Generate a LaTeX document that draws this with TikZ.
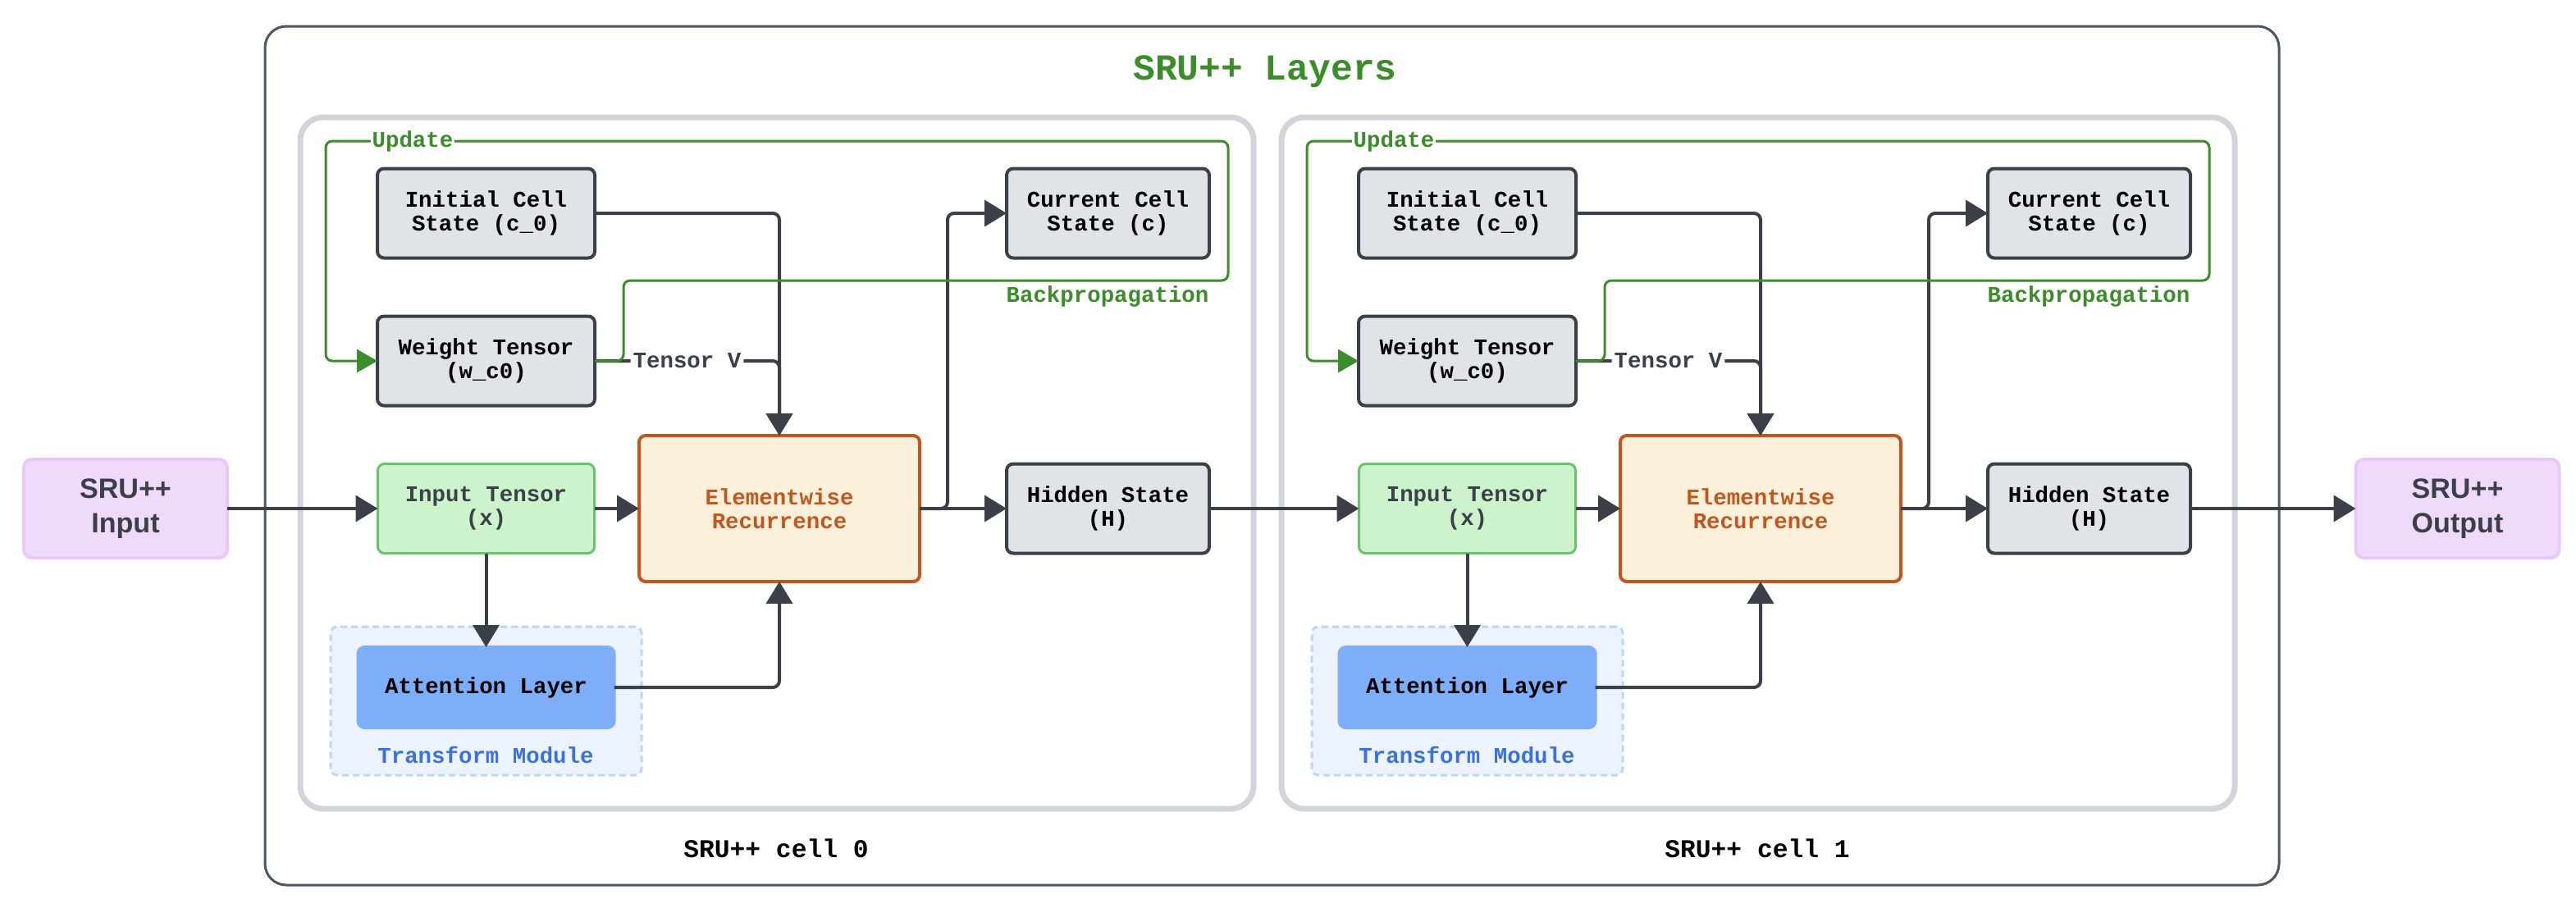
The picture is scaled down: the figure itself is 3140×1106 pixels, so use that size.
\documentclass[tikz,border=0pt]{standalone}
\usepackage{fontspec}
\setmainfont{Liberation Sans}
\setsansfont{Liberation Sans}
\setmonofont{Liberation Mono}
\usetikzlibrary{arrows.meta,positioning}
\definecolor{lineDark}{HTML}{3B4048}
\definecolor{outerGray}{HTML}{4B5563}
\definecolor{cellGray}{HTML}{D1D5DB}
\definecolor{stateGray}{HTML}{E0E3E8}
\definecolor{sruGreen}{HTML}{3C8C2C}
\definecolor{inputFill}{HTML}{CCF3CC}
\definecolor{inputLine}{HTML}{6CC16C}
\definecolor{recFill}{HTML}{FDF0DA}
\definecolor{recLine}{HTML}{C0571F}
\definecolor{attFill}{HTML}{7EAEF7}
\definecolor{modFill}{HTML}{EDF3FE}
\definecolor{modLine}{HTML}{BCD4F7}
\definecolor{modText}{HTML}{3B72DA}
\definecolor{ioFill}{HTML}{F0DAFB}
\definecolor{ioLine}{HTML}{E8C8F8}
\newcommand{\boxfont}{\ttfamily\bfseries\fontsize{7.8}{8.3}\selectfont}

\begin{document}
\begin{tikzpicture}[x=0.1mm,y=-0.1mm,>={Triangle[length=2.7mm,width=3.2mm]},
    gbox/.style={draw=lineDark,line width=0.4mm,fill=stateGray,rounded corners=0.8mm,
      align=center,minimum width=26.5mm,minimum height=10.9mm,inner sep=0pt,outer sep=0pt,font=\boxfont},
    inbox/.style={gbox,draw=inputLine,line width=0.3mm,fill=inputFill,text=lineDark,minimum width=26.4mm},
    recbox/.style={gbox,draw=recLine,fill=recFill,text=recLine,minimum width=34.2mm,minimum height=17.8mm},
    attbox/.style={gbox,draw=attFill,fill=attFill,minimum width=31.2mm,minimum height=9.8mm},
    modbox/.style={draw=modLine,line width=0.3mm,fill=modFill,dash pattern=on 0.8mm off 0.5mm,
      rounded corners=0.8mm,minimum width=37.9mm,minimum height=18.1mm,outer sep=0pt},
    iobox/.style={draw=ioLine,line width=0.4mm,fill=ioFill,rounded corners=1mm,align=center,
      minimum width=24.8mm,minimum height=12mm,inner sep=0pt,outer sep=0pt,text=lineDark,
      font=\sffamily\bfseries\fontsize{9.7}{11.9}\selectfont},
    flow/.style={draw=lineDark,line width=0.4mm,rounded corners=0.8mm},
    upd/.style={draw=sruGreen,line width=0.3mm,rounded corners=0.8mm,-{Triangle[length=2.5mm,width=2.8mm]}},
    glbl/.style={text=sruGreen,font=\boxfont,inner sep=0.2mm},
    tv/.style={fill=white,text=lineDark,font=\boxfont,inner sep=0.3mm},
    cellbox/.style={draw=cellGray,line width=0.7mm,rounded corners=2.8mm}]
    \useasboundingbox (0,0) rectangle (3140,1106);
    \draw[outerGray,line width=0.3mm,rounded corners=2.6mm] (323,32) rectangle (2778,1079);
    \node[text=sruGreen,font=\ttfamily\bfseries\fontsize{12.7}{15}\selectfont] (title) at (1542,87) {SRU++ Layers};
    \draw[cellbox] (366,143) rectangle (1528,986);
    \draw[cellbox] (1562,143) rectangle (2724,986);
    \node[font=\ttfamily\bfseries\fontsize{8.9}{10}\selectfont] (cell0) at (946,1034) {SRU++ cell 0};
    \node[font=\ttfamily\bfseries\fontsize{8.9}{10}\selectfont] (cell1) at (2142,1034) {SRU++ cell 1};

    \node[iobox] (in) at (153,620) {SRU++\\Input};
    \node[iobox] (out) at (2995.5,620) {SRU++\\Output};

    \node[modbox] (mod0) at (592.5,854.5) {};
    \node[inbox] (inp0) at (592.5,620) {Input Tensor\\(x)};
    \node[gbox,above=7.1mm of inp0] (wt0) {Weight Tensor\\(w\_c0)};
    \node[gbox,above=7.1mm of wt0] (init0) {Initial Cell\\State (c\_0)};
    \node[recbox,right=5.45mm of inp0] (rec0) {Elementwise\\Recurrence};
    \node[gbox,minimum width=24.7mm,right=10.6mm of rec0] (hid0) {Hidden State\\(H)};
    \node[gbox,minimum width=24.7mm] (cur0) at (hid0 |- init0) {Current Cell\\State (c)};
    \node[attbox,below=11.45mm of inp0] (att0) {Attention Layer};
    \node[text=modText,font=\boxfont] (modl0) at (592,920) {Transform Module};

    \node[modbox] (mod1) at (1788.5,854.5) {};
    \node[inbox] (inp1) at (1788.5,620) {Input Tensor\\(x)};
    \node[gbox,above=7.1mm of inp1] (wt1) {Weight Tensor\\(w\_c0)};
    \node[gbox,above=7.1mm of wt1] (init1) {Initial Cell\\State (c\_0)};
    \node[recbox,right=5.45mm of inp1] (rec1) {Elementwise\\Recurrence};
    \node[gbox,minimum width=24.7mm,right=10.6mm of rec1] (hid1) {Hidden State\\(H)};
    \node[gbox,minimum width=24.7mm] (cur1) at (hid1 |- init1) {Current Cell\\State (c)};
    \node[attbox,below=11.45mm of inp1] (att1) {Attention Layer};
    \node[text=modText,font=\boxfont] (modl1) at (1788,920) {Transform Module};

    \draw[flow,->] (in) -- (inp0);
    \draw[flow,->] (inp0) -- (rec0);
    \draw[flow,->] (init0.east) -| (rec0.north);
    \draw[flow,->] (wt0.east) -| node[tv,pos=0.25] {Tensor V} (rec0.north);
    \draw[flow,->] (rec0) -- (hid0);
    \draw[flow,->] (rec0.east) -- ++(34,0) |- (cur0.west);
    \draw[flow,->] (inp0) -- (att0);
    \draw[flow,->] (att0.east) -| (rec0.south);
    \draw[flow,->] (hid0) -- (inp1);

    \draw[flow,->] (inp1) -- (rec1);
    \draw[flow,->] (init1.east) -| (rec1.north);
    \draw[flow,->] (wt1.east) -| node[tv,pos=0.25] {Tensor V} (rec1.north);
    \draw[flow,->] (rec1) -- (hid1);
    \draw[flow,->] (rec1.east) -- ++(34,0) |- (cur1.west);
    \draw[flow,->] (inp1) -- (att1);
    \draw[flow,->] (att1.east) -| (rec1.south);
    \draw[flow,->] (hid1) -- (out);

    \coordinate (bp0) at (1497,342);
    \coordinate (up0) at (397,172);
    \draw[upd] (wt0.east) -- ++(35,0) |- (bp0) |- (up0) |- (wt0.west);
    \node[glbl,fill=white] (updl0) at (503,172) {Update};
    \node[glbl] (bpl0) at (1350,361) {Backpropagation};

    \coordinate (bp1) at (2693,342);
    \coordinate (up1) at (1593,172);
    \draw[upd] (wt1.east) -- ++(35,0) |- (bp1) |- (up1) |- (wt1.west);
    \node[glbl,fill=white] (updl1) at (1699,172) {Update};
    \node[glbl] (bpl1) at (2546,361) {Backpropagation};
  \end{tikzpicture}
\end{document}
